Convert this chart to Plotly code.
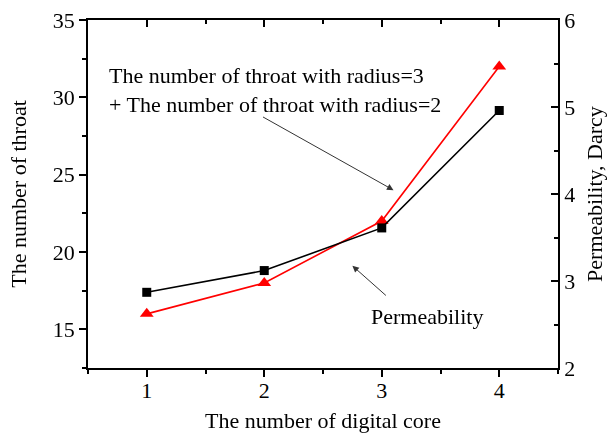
import plotly.graph_objects as go

digital_core = [1, 2, 3, 4]
throat_count = [16, 18, 22, 32]          # left axis, red triangles
permeability = [2.87, 3.12, 3.61, 4.96]  # right axis (Darcy), black squares

FONT = "Liberation Serif"

fig = go.Figure()
fig.add_trace(go.Scatter(
    x=digital_core, y=permeability, yaxis="y2", mode="lines+markers",
    line=dict(color="black", width=1.6),
    marker=dict(symbol="square", size=9, color="black"),
    showlegend=False))
fig.add_trace(go.Scatter(
    x=digital_core, y=throat_count, mode="lines+markers",
    line=dict(color="red", width=1.6),
    marker=dict(symbol="triangle-up", size=12, color="red"),
    showlegend=False))
# invisible trace to activate the top axis
fig.add_trace(go.Scatter(x=digital_core, y=throat_count, xaxis="x2",
                         mode="markers", opacity=0, hoverinfo="skip",
                         showlegend=False))

axis_common = dict(showline=True, linecolor="black", linewidth=1.5,
                   showgrid=False, zeroline=False, tickcolor="black",
                   tickwidth=1.5, automargin=False,
                   tickfont=dict(family=FONT, size=22, color="black"))
minor_out = dict(ticks="outside", ticklen=4, tickcolor="black", tickwidth=1.5)
minor_in = dict(ticks="inside", ticklen=4, tickcolor="black", tickwidth=1.5)

fig.update_layout(
    width=616, height=437,
    margin=dict(l=88, r=58, t=20, b=69),
    paper_bgcolor="white", plot_bgcolor="white",
    font=dict(family=FONT, color="black"),
    xaxis=dict(range=[0.5, 4.5], dtick=1, tick0=1, ticks="outside", ticklen=7,
               ticklabelstandoff=-5,
               minor=dict(dtick=0.5, **minor_out),
               title=dict(text="The number of digital core", font=dict(family=FONT, size=22), standoff=10),
               **axis_common),
    xaxis2=dict(range=[0.5, 4.5], dtick=1, tick0=1, ticks="inside", ticklen=7,
                overlaying="x", side="top", anchor="y", showticklabels=False,
                minor=dict(dtick=0.5, **minor_in),
                **axis_common),
    yaxis=dict(range=[12.5, 35], dtick=5, tick0=15, ticks="outside", ticklen=7,
               minor=dict(dtick=2.5, **minor_out),
               title=dict(text="The number of throat", font=dict(family=FONT, size=22), standoff=20),
               **axis_common),
    yaxis2=dict(range=[2, 6], dtick=1, tick0=2, ticks="inside", ticklen=7,
                overlaying="y", side="right", anchor="x",
                minor=dict(dtick=0.5, **minor_in),
                title=dict(text="Permeability, Darcy", font=dict(family=FONT, size=22), standoff=12),
                **axis_common),
)

ann_font = dict(family=FONT, size=22, color="black")
fig.add_annotation(xref="paper", yref="paper", x=(107-88)/470, y=(368-75)/348,
                   xanchor="left", yanchor="middle", showarrow=False,
                   text="The number of throat with radius=3", font=ann_font)
fig.add_annotation(xref="paper", yref="paper", x=(107-88)/470, y=(368-104)/348,
                   xanchor="left", yanchor="middle", showarrow=False,
                   text="+ The number of throat with radius=2", font=ann_font)
fig.add_annotation(xref="paper", yref="paper", x=(427-88)/470, y=(368-316)/348,
                   xanchor="center", yanchor="middle", showarrow=False,
                   text="Permeability", font=ann_font)
# arrows
fig.add_annotation(x=3.10, y=24.0, xref="x", yref="y", text="", showarrow=True,
                   ax=-132, ay=-74, arrowhead=2, arrowsize=1.3, arrowwidth=1,
                   arrowcolor="#333333")
fig.add_annotation(x=2.75, y=19.11, xref="x", yref="y", text="", showarrow=True,
                   ax=35, ay=31, arrowhead=2, arrowsize=1.3, arrowwidth=1,
                   arrowcolor="#333333")

fig.write_html("out.html", config={"displayModeBar": False},
               post_script="document.body.style.margin='0';document.body.style.overflow='hidden';")
